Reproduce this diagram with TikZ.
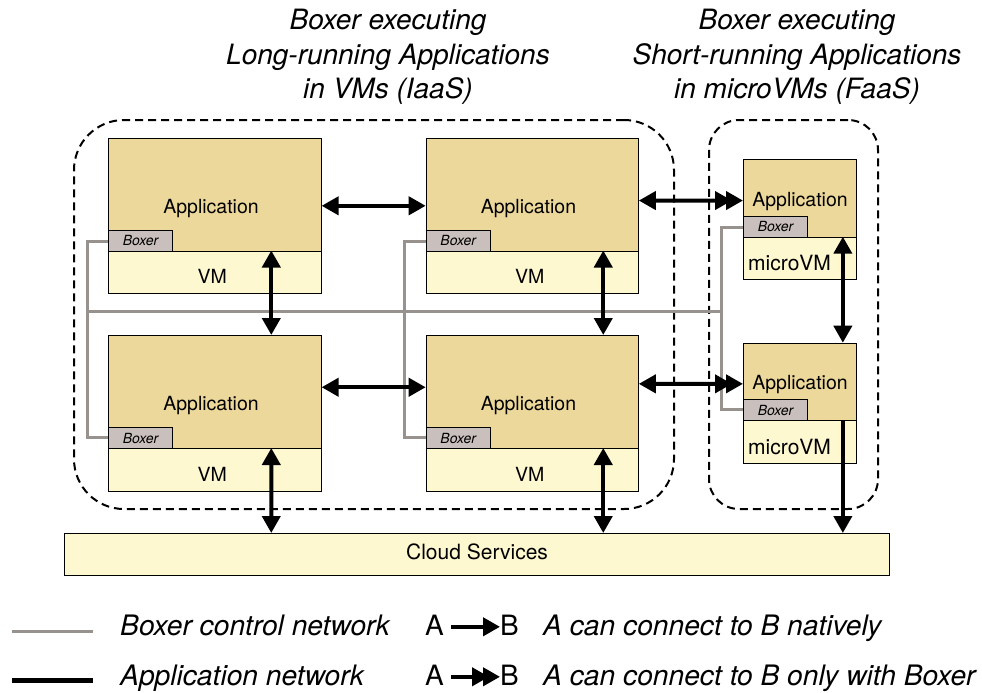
\documentclass[tikz,border=0pt]{standalone}
\usepackage{fontspec}
\setmainfont{TeX Gyre Heros}
\usetikzlibrary{arrows.meta}

\definecolor{apptan}{HTML}{EDD89C}
\definecolor{vmyellow}{HTML}{FDF8D0}
\definecolor{boxergray}{HTML}{C9BFBD}
\definecolor{ctrlgray}{HTML}{97928D}

\newcommand{\fsz}[1]{\fontsize{#1}{#1}\selectfont}

\tikzset{
  region/.style={draw=black, line width=1.1pt, inner sep=0pt, anchor=north west},
  appregion/.style={region, fill=apptan},
  vmregion/.style={region, fill=vmyellow},
  boxerbox/.style={draw=black, line width=1.1pt, inner sep=0pt, fill=boxergray,
    minimum width=64pt, minimum height=21pt, anchor=south west, font=\fsz{14}\itshape},
  lbl/.style={inner sep=0pt, font=\fsz{19.5}},
  biglbl/.style={inner sep=0pt, font=\fsz{21}},
  title/.style={inner sep=0pt, anchor=base, font=\fsz{28}\itshape},
  legtxt/.style={inner sep=0pt, anchor=base west, font=\fsz{28.2}\itshape},
  legsym/.style={inner sep=0pt, anchor=base west, font=\fsz{28}},
  groupbox/.style={draw=black, line width=2pt, dash pattern=on 8pt off 5pt,
    inner sep=0pt, anchor=north west},
  ctrl/.style={draw=ctrlgray, line width=3pt},
  appnet/.style={draw=black, line width=4pt},
  biarr/.style={appnet, {Triangle[length=17pt,width=18pt]}-{Triangle[length=17pt,width=18pt]}},
  onearr/.style={appnet, -{Triangle[length=17pt,width=18pt]}},
  boxarr/.style={appnet, {Triangle[length=17pt,width=18pt]}-{Triangle[length=17pt,width=18pt,sep=-6pt]Triangle[length=17pt,width=18pt]}},
  leg2arr/.style={appnet, -{Triangle[length=17pt,width=18pt,sep=-6pt]Triangle[length=17pt,width=18pt]}},
}

\begin{document}
\begin{tikzpicture}[x=1pt,y=-1pt]
\useasboundingbox (0,0) rectangle (982,693);

% titles
\node[title] (tl1) at (388,29.5) {Boxer executing};
\node[title] (tl2) at (388,64) {Long-running Applications};
\node[title] (tl3) at (388,98.5) {in VMs (IaaS)};
\node[title] (tr1) at (797,29.5) {Boxer executing};
\node[title] (tr2) at (797,64) {Short-running Applications};
\node[title] (tr3) at (797,98.5) {in microVMs (FaaS)};

% dashed groups
\node[groupbox, rounded corners=50pt, minimum width=600pt, minimum height=389pt] (iaas) at (73,119) {};
\node[groupbox, rounded corners=30pt, minimum width=169pt, minimum height=389pt] (faas) at (708,119) {};

% control network
\coordinate (busL) at (87,311.5);
\coordinate (busR) at (721.7,311.5);
\draw[ctrl] (busL) -- (busR);

% VMs
\node[appregion, minimum width=212.5pt, minimum height=112.5pt] (app1) at (108,138) {};
\node[vmregion, minimum width=212.5pt, minimum height=42pt] (vm1) at (108,250.5) {};
\node[appregion, minimum width=212pt, minimum height=112.5pt] (app2) at (425.7,138) {};
\node[vmregion, minimum width=212pt, minimum height=42pt] (vm2) at (425.7,250.5) {};
\node[appregion, minimum width=212.5pt, minimum height=113pt] (app3) at (108,335) {};
\node[vmregion, minimum width=212.5pt, minimum height=42.5pt] (vm3) at (108,448) {};
\node[appregion, minimum width=212pt, minimum height=113pt] (app4) at (425.7,335) {};
\node[vmregion, minimum width=212pt, minimum height=42.5pt] (vm4) at (425.7,448) {};

% microVMs
\node[appregion, minimum width=113pt, minimum height=77.7pt] (mapp1) at (743,159) {};
\node[vmregion, minimum width=113pt, minimum height=42.3pt] (mvm1) at (743,236.7) {};
\node[appregion, minimum width=113pt, minimum height=77.3pt] (mapp2) at (743,342.7) {};
\node[vmregion, minimum width=113pt, minimum height=42.7pt] (mvm2) at (743,420) {};

% cloud
\node[vmregion, minimum width=825pt, minimum height=42pt] (cloud) at (64,533) {};
\node[biglbl, anchor=base] (cloudt) at ([yshift=16.7pt]cloud.south) {Cloud Services};

% labels
\foreach \n in {1,2,3,4}{
  \node[lbl, anchor=base] (appt\n) at ([xshift=-3.8pt,yshift=38.5pt]app\n.south) {Application};
  \node[lbl, anchor=base] (vmt\n) at ([xshift=-2.5pt,yshift=10.5pt]vm\n.south) {VM};
}
\foreach \n in {1,2}{
  \node[lbl, anchor=base] (mappt\n) at ([yshift=31.7pt]mapp\n.south) {Application};
  \node[biglbl, anchor=base west] (mvmt\n) at ([xshift=5pt,yshift=9.5pt]mvm\n.south west) {microVM};
}

% Boxer components
\node[boxerbox] (bx1) at (app1.south west) {Boxer};
\node[boxerbox] (bx2) at (app2.south west) {Boxer};
\node[boxerbox] (bx3) at (app3.south west) {Boxer};
\node[boxerbox] (bx4) at (app4.south west) {Boxer};
\node[boxerbox] (mbx1) at (mapp1.south west) {Boxer};
\node[boxerbox] (mbx2) at (mapp2.south west) {Boxer};

% control links
\draw[ctrl] ([yshift=-1pt]bx1.west) -- ++(-21,0) |- ([yshift=1pt]bx3.west);
\draw[ctrl] ([yshift=-1pt]bx2.west) -- ++(-21.4,0) |- ([yshift=1pt]bx4.west);
\draw[ctrl] ([yshift=-1pt]mbx1.west) -- ++(-21.3,0) |- ([yshift=0.5pt]mbx2.west);

% application network
\draw[biarr] ([yshift=-11pt]app1.east) -- ([yshift=-11pt]app2.west);
\draw[biarr] ([yshift=4.8pt]app3.east) -- ([yshift=4.8pt]app4.west);
\draw[boxarr] ([yshift=-5.75pt]app2.east) -- ([yshift=-2.15pt]mapp1.west);
\draw[boxarr] ([yshift=8.2pt]app4.east) -- ([yshift=-1.95pt]mapp2.west);
\draw[biarr] ([xshift=56.5pt]vm1.north) -- ([xshift=56.5pt]app3.north);
\draw[biarr] ([xshift=71pt]vm2.north) -- ([xshift=71pt]app4.north);
\draw[biarr] ([xshift=56.5pt]vm3.north) -- ([xshift=-205.8pt]cloud.north);
\draw[biarr] ([xshift=71pt]vm4.north) -- ([xshift=126.2pt]cloud.north);
\draw[biarr] ([xshift=42.8pt]mvm1.north) -- ([xshift=42.8pt]mapp2.north);
\draw[onearr] ([xshift=42.8pt]mvm2.north) -- ([xshift=365.8pt]cloud.north);

% legend
\coordinate (lg1) at (12,631.7);
\coordinate (lg2) at (93,631.7);
\draw[ctrl] (lg1) -- (lg2);
\coordinate (lk1) at (12,680);
\coordinate (lk2) at (93,680);
\draw[black, line width=5pt] (lk1) -- (lk2);

\node[legtxt] (leg1) at (120,635) {Boxer control network};
\node[legtxt] (leg2) at (120,685) {Application network};
\node[legsym] (la1) at (425,635) {A};
\node[legsym] (lb1) at (500,635) {B};
\node[legsym] (la2) at (425,685) {A};
\node[legsym] (lb2) at (500,685) {B};
\draw[onearr] ([xshift=7pt,yshift=-2pt]la1.east) -- ([yshift=-2pt]lb1.west);
\draw[leg2arr] ([xshift=7pt,yshift=-2pt]la2.east) -- ([yshift=-2pt]lb2.west);
\node[legtxt] (ld1) at (543,635) {A can connect to B natively};
\node[legtxt] (ld2) at (543,685) {A can connect to B only with Boxer};
\end{tikzpicture}
\end{document}
